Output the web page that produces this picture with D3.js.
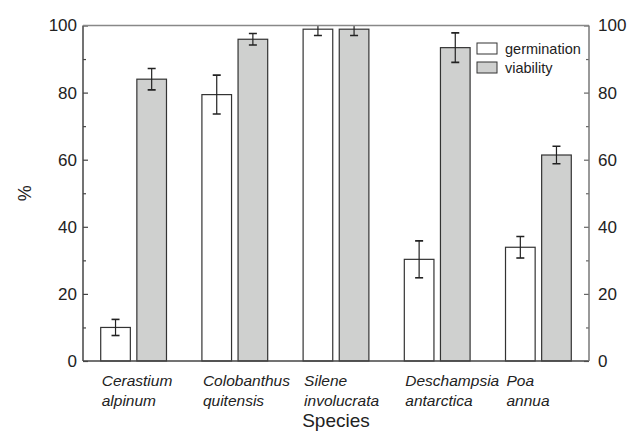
<!DOCTYPE html>
<html>
<head>
<meta charset="utf-8">
<script src="https://cdn.jsdelivr.net/npm/d3@7"></script>
<style>
  body { margin: 0; background: #fff; }
  text { font-family: "Liberation Sans", Arial, sans-serif; fill: #222; }
</style>
</head>
<body>
<div id="chart"></div>
<script>
"use strict";

// données
const species = ["Cerastium alpinum", "Colobanthus quitensis", "Silene involucrata", "Deschampsia antarctica", "Poa annua"];
const seriesNames = ["germination", "viability"];
const germination = [10, 79.4, 98.9, 30.3, 33.9];
const germinationErr = [2.4, 5.8, 1.9, 5.5, 3.2];
const viability = [84.0, 95.9, 98.9, 93.4, 61.4];
const viabilityErr = [3.2, 1.7, 1.9, 4.4, 2.6];
const majorTicks = [0, 20, 40, 60, 80, 100];
const minorTicks = [10, 30, 50, 70, 90];

const width = 632;
const height = 438;
const plotLeft = 83, plotRight = 589, plotTop = 25.5, plotBottom = 361;

const colors = { germination: "#ffffff", viability: "#cfd0cf" };

const svg = d3.select("#chart").append("svg")
  .attr("width", width)
  .attr("height", height);

const y = d3.scaleLinear().domain([0, 100]).range([plotBottom, plotTop]);

const x0 = d3.scaleBand().domain(species).range([plotLeft, plotRight])
  .paddingInner(0.35).paddingOuter(0.175);

const x1 = d3.scaleBand().domain(seriesNames).range([0, x0.bandwidth()])
  .paddingInner(0.18);

// une entrée par barre
const bars = [];
species.forEach((s, i) => {
  bars.push({ name: s, key: "germination", value: germination[i], err: germinationErr[i] });
  bars.push({ name: s, key: "viability", value: viability[i], err: viabilityErr[i] });
});
const barX = (d) => x0(d.name) + x1(d.key);

svg.append("clipPath").attr("id", "plot-clip")
  .append("rect")
  .attr("x", plotLeft).attr("y", plotTop)
  .attr("width", plotRight - plotLeft).attr("height", plotBottom - plotTop);

// barres
svg.append("g")
  .selectAll("rect")
  .data(bars)
  .join("rect")
  .attr("x", barX)
  .attr("y", (d) => y(d.value))
  .attr("width", x1.bandwidth())
  .attr("height", (d) => y(0) - y(d.value))
  .attr("fill", (d) => colors[d.key])
  .attr("stroke", "#333")
  .attr("stroke-width", 1.2);

// barres d'erreur (coupées au cadre)
const errs = svg.append("g")
  .attr("clip-path", "url(#plot-clip)")
  .selectAll("g")
  .data(bars)
  .join("g")
  .attr("transform", (d) => `translate(${barX(d) + x1.bandwidth() / 2},0)`);

errs.append("line")
  .attr("y1", (d) => y(d.value + d.err))
  .attr("y2", (d) => y(d.value - d.err))
  .attr("stroke", "#222")
  .attr("stroke-width", 1.2);

errs.selectAll(".cap")
  .data((d) => [d.value + d.err, d.value - d.err])
  .join("line")
  .attr("class", "cap")
  .attr("x1", -4).attr("x2", 4)
  .attr("y1", (v) => y(v)).attr("y2", (v) => y(v))
  .attr("stroke", "#222")
  .attr("stroke-width", 1.6);

// axes
const styleAxis = (g, color) => {
  g.select(".domain").remove();
  g.selectAll("line").attr("stroke", color).attr("stroke-width", 1.2);
  g.selectAll("text").style("font-size", "17px").attr("fill", "#222");
};

svg.append("g")
  .attr("transform", `translate(${plotLeft},0)`)
  .call(d3.axisLeft(y).tickValues(majorTicks).tickSize(-5).tickPadding(6))
  .call((g) => styleAxis(g, "#444"));

svg.append("g")
  .attr("transform", `translate(${plotLeft},0)`)
  .call(d3.axisLeft(y).tickValues(minorTicks).tickSize(-3).tickFormat(""))
  .call((g) => styleAxis(g, "#444"));

svg.append("g")
  .attr("transform", `translate(${plotRight},0)`)
  .call(d3.axisRight(y).tickValues(majorTicks).tickSize(-5).tickPadding(9))
  .call((g) => styleAxis(g, "#666"));

svg.append("g")
  .attr("transform", `translate(${plotRight},0)`)
  .call(d3.axisRight(y).tickValues(minorTicks).tickSize(-3).tickFormat(""))
  .call((g) => styleAxis(g, "#666"));

// cadre
svg.append("line").attr("x1", plotLeft).attr("x2", plotLeft).attr("y1", plotTop).attr("y2", plotBottom)
  .attr("stroke", "#444").attr("stroke-width", 1.5);
svg.append("line").attr("x1", plotLeft).attr("x2", plotRight).attr("y1", plotBottom).attr("y2", plotBottom)
  .attr("stroke", "#444").attr("stroke-width", 1.5);
svg.append("line").attr("x1", plotLeft).attr("x2", plotRight).attr("y1", plotTop).attr("y2", plotTop)
  .attr("stroke", "#888").attr("stroke-width", 1.5);
svg.append("line").attr("x1", plotRight).attr("x2", plotRight).attr("y1", plotTop).attr("y2", plotBottom)
  .attr("stroke", "#777").attr("stroke-width", 1.5);

// noms d'espèces en italique, sur deux lignes
const labels = svg.append("g")
  .selectAll("text")
  .data(species)
  .join("text")
  .attr("x", (d) => x0(d) + 1)
  .attr("y", 386)
  .style("font-size", "15.5px")
  .style("font-style", "italic");

labels.selectAll("tspan")
  .data((d) => d.split(" "))
  .join("tspan")
  .attr("x", function () { return d3.select(this.parentNode).attr("x"); })
  .attr("dy", (d, i) => (i === 0 ? 0 : 19.5))
  .text((d) => d);

svg.append("text")
  .attr("x", (plotLeft + plotRight) / 2)
  .attr("y", 427)
  .attr("text-anchor", "middle")
  .style("font-size", "19px")
  .text("Species");

svg.append("text")
  .attr("transform", `translate(31,${(plotTop + plotBottom) / 2}) rotate(-90)`)
  .attr("text-anchor", "middle")
  .style("font-size", "18px")
  .text("%");

// légende
const legend = svg.append("g")
  .selectAll("g")
  .data(seriesNames)
  .join("g")
  .attr("transform", (d, i) => `translate(477,${43 + i * 19})`);

legend.append("rect")
  .attr("width", 20)
  .attr("height", 11)
  .attr("fill", (d) => colors[d])
  .attr("stroke", "#333")
  .attr("stroke-width", 1);

legend.append("text")
  .attr("x", 28)
  .attr("y", 10.5)
  .style("font-size", "14.5px")
  .text((d) => d);
</script>
</body>
</html>
